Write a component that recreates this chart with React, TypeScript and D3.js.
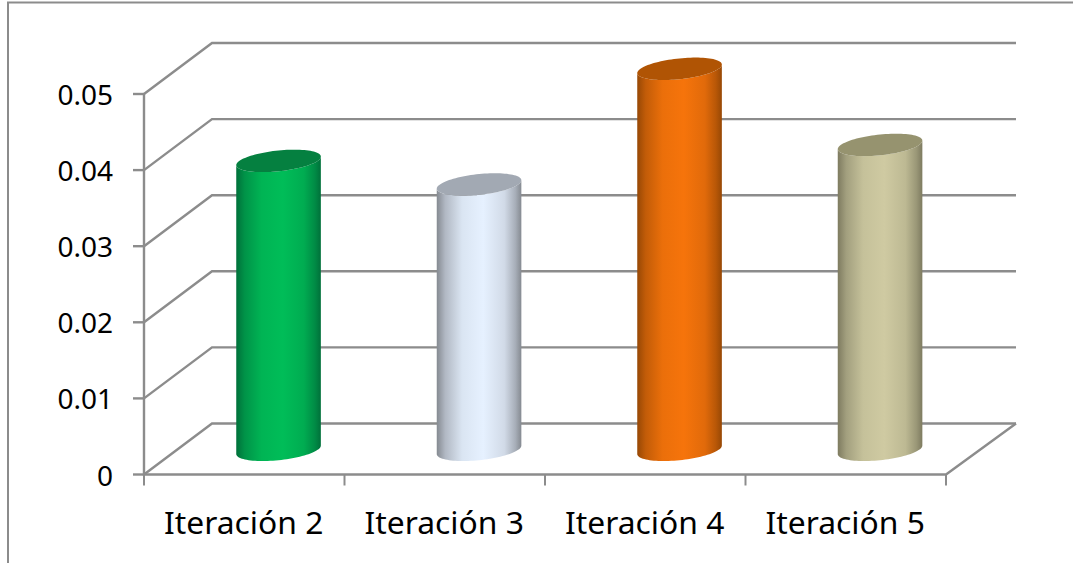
import React from "react";
import * as d3 from "d3";

const categories = ["Iteración 2", "Iteración 3", "Iteración 4", "Iteración 5"];
const values = [0.0379, 0.0348, 0.05, 0.04];
const ticks = [0, 0.01, 0.02, 0.03, 0.04, 0.05];
const tickLabels = ["0", "0.01", "0.02", "0.03", "0.04", "0.05"];
const edgeColors = ["#00703a", "#858a91", "#974805", "#7e7b60"];
const midColors = ["#00bd58", "#e6f1ff", "#f6740b", "#cfcaa2"];
const lidColors = ["#058040", "#a2a9b3", "#b05404", "#96936f"];
const shadeStops = [
  [0, 0],
  [0.1, 0.45],
  [0.3, 0.88],
  [0.55, 1],
  [0.8, 0.78],
  [0.93, 0.35],
  [1, 0],
];

const W = 1073, H = 563;
const x = d3.scaleBand<string>().domain(categories).range([144, 946]);
const y = d3.scaleLinear().domain([0, 0.05]).range([474.5, 94]);
const DX = 68, DY = -51;
const GRID = "#8c8c8c";

const RX = 42.3, RY = 10.4, SHEAR = 0.1;
const angles = d3.range(0, 1.0001, 1 / 48).map((t) => t * Math.PI);
const rim = (cx: number, cy: number, a: number): [number, number] => [
  cx + RX * Math.cos(a),
  cy + RY * Math.sin(a) - SHEAR * RX * Math.cos(a),
];
const line = d3.line();

function Cylinder({ i }: { i: number }) {
  const cx = x(categories[i])! + x.bandwidth() / 2 + DX / 2 + 0.3;
  const zero = y(0) + DY / 2 + 0.8;
  const cy = y(values[i]) + DY / 2 + 0.3;
  const topFront = angles.map((a) => rim(cx, cy, a));
  const bottomFront = angles.map((a) => rim(cx, zero, a));
  const body = [...bottomFront, ...[...topFront].reverse()];
  const lid = [...topFront, ...angles.map((a) => rim(cx, cy, a + Math.PI))];
  const shade = d3.interpolateRgb(edgeColors[i], midColors[i]);
  return (
    <g>
      <defs>
        <linearGradient id={`g${i}`} x1="0" x2="1" y1="0" y2="0">
          {shadeStops.map(([o, t]) => (
            <stop key={o} offset={o} stopColor={shade(t)} />
          ))}
        </linearGradient>
      </defs>
      <path d={line(body)! + "Z"} fill={`url(#g${i})`} />
      <path d={line(lid)! + "Z"} fill={lidColors[i]} />
    </g>
  );
}

export default function App() {
  const fontFamily = "'Noto Sans', 'Open Sans', sans-serif";
  const x0 = x.range()[0], x1 = x.range()[1];
  const edges = [...categories.map((c) => x(c)!), x1];
  return (
    <svg width={W} height={H} style={{ position: "absolute", left: 0, top: 0, background: "#fff" }} fontFamily={fontFamily}>
      <path d={`M8,${H}V2.5H${W}`} fill="none" stroke={GRID} strokeWidth={2} />
      {ticks.map((t) => (
        <g key={t} fill="none" stroke={GRID} strokeWidth={2.4}>
          <path d={`M${x0},${y(t)}L${x0 + DX},${y(t) + DY}H${x1 + DX + 2}`} />
          <path d={`M${x0 - 11},${y(t)}H${x0}`} />
        </g>
      ))}
      <path d={`M${x0},${y(0.05)}V${y(0)}H${x1}L${x1 + DX + 2},${y(0) + DY}`} fill="none" stroke={GRID} strokeWidth={2.4} />
      {edges.map((e) => (
        <path key={e} d={`M${e},${y(0)}v11`} stroke={GRID} strokeWidth={2} />
      ))}
      {categories.map((_, i) => <Cylinder key={i} i={i} />)}
      {ticks.map((t, i) => (
        <text key={t} x={113} y={y(t) + 11} textAnchor="end" fontSize={28} fill="#000">
          {tickLabels[i]}
        </text>
      ))}
      {categories.map((c) => (
        <text key={c} x={x(c)! + x.bandwidth() / 2 - 0.5} y={534} textAnchor="middle" fontSize={31.8} fill="#000">
          {c}
        </text>
      ))}
    </svg>
  );
}
